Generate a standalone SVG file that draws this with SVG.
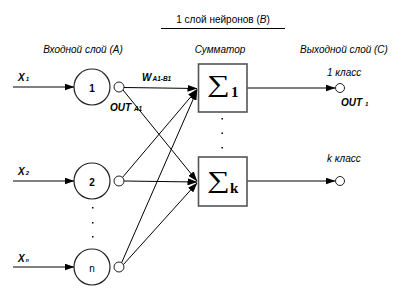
<svg xmlns="http://www.w3.org/2000/svg" width="405" height="301" viewBox="0 0 405 301">
<defs>
<marker id="ah" markerWidth="10" markerHeight="7" refX="9.5" refY="3.5" orient="auto" markerUnits="userSpaceOnUse">
<path d="M0,0 L10,3.5 L0,7 Z" fill="#000"/>
</marker>
<style>
.t{font-family:"Liberation Sans",Arial,sans-serif;font-size:10px;fill:#000}
.i{font-style:italic}
.b{font-weight:bold}
.ln{stroke:#000;stroke-width:1;fill:none}
.big{fill:#fff;stroke:#222;stroke-width:1.2}
.sm{fill:#fff;stroke:#222;stroke-width:1}
.box{fill:#fff;stroke:#555;stroke-width:1.6}
.sig{font-family:"Liberation Serif","DejaVu Serif",serif;font-size:38px;fill:#000}
.sub{font-family:"Liberation Serif","DejaVu Serif",serif;font-size:15px;font-weight:bold;fill:#000}
.dot{fill:#000}
</style>
</defs>
<rect width="405" height="301" fill="#fff"/>
<g id="title">
<text class="t" x="223" y="23" text-anchor="middle">1 слой нейронов  (<tspan class="i">B</tspan>)</text>
<line x1="161" y1="28.5" x2="285" y2="28.5" stroke="#000" stroke-width="1"/>
</g>
<g id="headers">
<text class="t i" x="83" y="53" text-anchor="middle">Входной слой (А)</text>
<text class="t i" x="220" y="53" text-anchor="middle">Сумматор</text>
<text class="t i" x="344" y="53" text-anchor="middle">Выходной слой (С)</text>
</g>
<g id="connectors">
<line class="ln" x1="13" y1="87" x2="74" y2="87" marker-end="url(#ah)"/>
<line class="ln" x1="13" y1="181" x2="74" y2="181" marker-end="url(#ah)"/>
<line class="ln" x1="13" y1="267" x2="74" y2="267" marker-end="url(#ah)"/>
<line class="ln" x1="124" y1="87.5" x2="197" y2="88.5" marker-end="url(#ah)"/>
<line class="ln" x1="123" y1="90" x2="197" y2="181" marker-end="url(#ah)"/>
<line class="ln" x1="122" y1="178" x2="197" y2="89.5" marker-end="url(#ah)"/>
<line class="ln" x1="124" y1="181" x2="197" y2="182" marker-end="url(#ah)"/>
<line class="ln" x1="121.5" y1="263" x2="197" y2="90.5" marker-end="url(#ah)"/>
<line class="ln" x1="123" y1="265" x2="197" y2="183" marker-end="url(#ah)"/>
<line class="ln" x1="247" y1="88" x2="335" y2="88" marker-end="url(#ah)"/>
<line class="ln" x1="247" y1="181" x2="335" y2="181" marker-end="url(#ah)"/>
</g>
<g id="in1">
<text class="t i b" x="18" y="81" font-size="9.5">X<tspan font-size="6" dx="1">1</tspan></text>
<circle class="big" cx="92" cy="87" r="18"/>
<text class="t b" x="92" y="91.5" text-anchor="middle" font-size="12">1</text>
<circle class="sm" cx="119" cy="87" r="5"/>
<text class="t i b" x="110" y="111" font-size="8">OUT <tspan font-size="6.5">A1</tspan></text>
</g>
<g id="in2">
<text class="t i b" x="18" y="175" font-size="9.5">X<tspan font-size="6" dx="1">2</tspan></text>
<circle class="big" cx="92" cy="181" r="18"/>
<text class="t b" x="92" y="185.5" text-anchor="middle" font-size="12">2</text>
<circle class="sm" cx="119" cy="181" r="5"/>
</g>
<g id="inn">
<text class="t i b" x="18" y="262" font-size="9.5">X<tspan font-size="5" dx="1">n</tspan></text>
<circle class="big" cx="92" cy="267" r="18"/>
<text class="t" x="92" y="271.5" text-anchor="middle" font-size="12">n</text>
<circle class="sm" cx="119" cy="267" r="5"/>
</g>
<g id="indots">
<rect class="dot" x="92" y="207" width="1.5" height="1.5"/>
<rect class="dot" x="92" y="222" width="1.5" height="1.5"/>
<rect class="dot" x="92" y="236" width="1.5" height="1.5"/>
</g>
<g id="weight">
<text class="t i b" x="142" y="81" font-size="9.5">W<tspan font-size="6.5" dx="1">A1-B1</tspan></text>
</g>
<g id="sum1">
<rect class="box" x="198.5" y="64" width="48.5" height="48"/>
<text class="sig" x="0" y="0" transform="translate(207,91.5) scale(0.84,0.63)">∑</text>
<text class="sub" x="231" y="97">1</text>
</g>
<g id="sumk">
<rect class="box" x="198.5" y="157" width="48.5" height="49"/>
<text class="sig" x="0" y="0" transform="translate(207,187.5) scale(0.84,0.63)">∑</text>
<text class="sub" x="230" y="193">k</text>
</g>
<g id="sumdots">
<rect class="dot" x="221.5" y="118" width="1.5" height="1.5"/>
<rect class="dot" x="221.5" y="132.5" width="1.5" height="1.5"/>
<rect class="dot" x="221.5" y="147" width="1.5" height="1.5"/>
</g>
<g id="out1">
<circle class="sm" cx="340" cy="88" r="4.5"/>
<text class="t i" x="327" y="76" font-size="9">1 класс</text>
<text class="t i b" x="341" y="106" font-size="8">OUT <tspan font-size="6">1</tspan></text>
</g>
<g id="outk">
<circle class="sm" cx="340" cy="181" r="4.5"/>
<text class="t i" x="327" y="162" font-size="9">k класс</text>
</g>
</svg>
